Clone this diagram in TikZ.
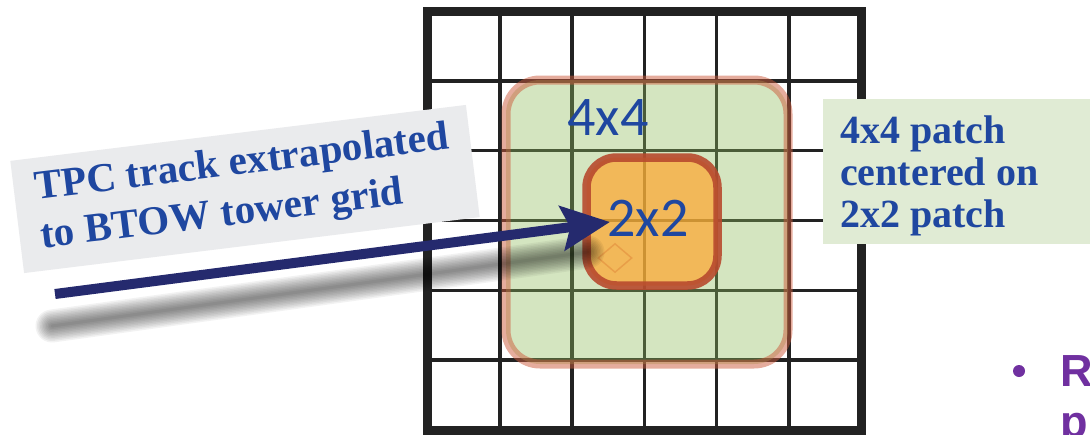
\documentclass[tikz,border=0pt]{standalone}
\usepackage{fontspec}
\setmainfont{Liberation Serif}
\newfontfamily\patchsans{Carlito}
\newfontfamily\bulletsans{Liberation Sans}
\usetikzlibrary{positioning, arrows.meta, calc, shapes.geometric}
\definecolor{towerink}{RGB}{34, 34, 34}
\definecolor{patchgreen}{RGB}{142, 189, 92}
\definecolor{patchrim}{RGB}{205, 90, 60}
\definecolor{seedorange}{RGB}{254, 168, 50}
\definecolor{seedrim}{RGB}{184, 74, 46}
\definecolor{trackblue}{RGB}{37, 42, 110}
\definecolor{noteblue}{RGB}{31, 71, 160}
\definecolor{notegray}{RGB}{234, 235, 237}
\definecolor{notegreen}{RGB}{224, 235, 212}
\definecolor{bulletpurple}{RGB}{112, 48, 160}

\begin{document}
\begin{tikzpicture}[x=1pt, y=-1pt]

        \useasboundingbox (0,0) rectangle (1090,434);
        \clip (0,0) rectangle (1090,434);
        \fill[white] (0,0) rectangle (1090,434);

        % Tower grid
        \foreach \i in {1,...,5} {
            \draw[towerink, line width=3.5pt] ({427.5+72.25*\i},11) -- ({427.5+72.25*\i},430);
            \draw[towerink, line width=3.5pt] (427.5,{11+69.83*\i}) -- (861,{11+69.83*\i});
        }
        \draw[towerink, line width=9pt] (427.5,11) rectangle (861,430);

        % 4x4 patch
        \node[draw=patchrim, draw opacity=0.5, line width=9pt, fill=patchgreen, fill opacity=0.38,
            rounded corners=34pt, minimum width=282pt, minimum height=284pt] (patchfour) at (647,222) {};
        \node[font=\patchsans\fontsize{56}{56}\selectfont, text=noteblue] (labelfour) at (608,118) {4x4};

        % 2x2 patch
        \node[draw=seedrim, draw opacity=0.9, line width=8.5pt, fill=seedorange, fill opacity=0.72,
            rounded corners=30pt, minimum width=131pt, minimum height=128pt] (patchtwo) at (652,221.5) {};
        \node[diamond, draw=seedrim!50!seedorange, draw opacity=0.4, line width=1.5pt,
            minimum width=34pt, minimum height=29pt, inner sep=0pt] (hitmark) at (615,258) {};

        % Track and its blurred shadow
        \coordinate (shadowstart) at (52,326);
        \coordinate (shadowend) at (588,252);
        \foreach \w in {3,6,...,33}
            \draw[black, draw opacity=0.05, line width=\w pt, line cap=round] (shadowstart) -- (shadowend);
        \coordinate (trackstart) at (55,294);
        \coordinate (trackhit) at (610,222);
        \draw[trackblue, line width=10pt, -{Stealth[length=48pt, width=44pt, inset=8pt]}] (trackstart) -- (trackhit);
        \node[font=\patchsans\fontsize{56}{56}\selectfont, text=noteblue] (labeltwo) at (648,218) {2x2};

        % Notes
        \node[fill=notegray, rotate=7, minimum width=459pt, minimum height=113pt, align=left, inner sep=0pt,
            font=\bfseries\fontsize{41}{49}\selectfont, text=noteblue] (tracknote) at (245,189)
            {TPC track extrapolated\\to BTOW tower grid};
        \node[fill=notegreen, anchor=north west, minimum width=290pt, minimum height=145pt,
            inner sep=0pt] (patchnote) at (823,99) {};
        \node[anchor=north west, align=left, inner sep=0pt, font=\bfseries\fontsize{40}{42}\selectfont,
            text=noteblue] (patchtext) at (840,116) {4x4 patch\\centered on\\2x2 patch};

        % Bullet
        \node[circle, fill=bulletpurple, minimum size=12pt, inner sep=0pt] (bulletdot) at (1019,371) {};
        \node[anchor=north west, align=left, inner sep=0pt, font=\bulletsans\bfseries\fontsize{45}{51}\selectfont,
            text=bulletpurple] (bullettext) at (1060,355) {R\\p};

    \end{tikzpicture}
\end{document}
